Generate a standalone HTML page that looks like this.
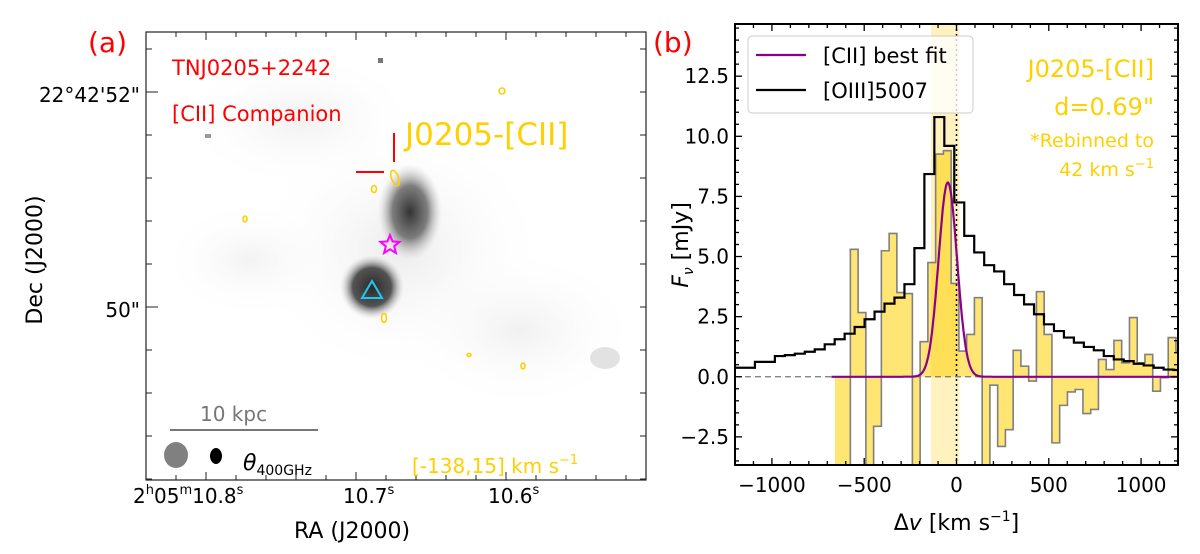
<!DOCTYPE html>
<html><head><meta charset="utf-8">
<style>
html,body{margin:0;padding:0;background:#fff;}
svg{display:block;font-family:"DejaVu Sans","Liberation Sans",sans-serif;}
</style></head>
<body>
<svg id="fig" width="1200" height="554" viewBox="0 0 1200 554" xmlns="http://www.w3.org/2000/svg">
<defs>
<radialGradient id="blobA"><stop offset="0" stop-color="#333"/><stop offset="0.55" stop-color="#707070" stop-opacity="0.9"/><stop offset="1" stop-color="#ccc" stop-opacity="0"/></radialGradient>
<radialGradient id="blobB"><stop offset="0" stop-color="#2a2a2a"/><stop offset="0.6" stop-color="#4a4a4a" stop-opacity="0.95"/><stop offset="1" stop-color="#ccc" stop-opacity="0"/></radialGradient>
<radialGradient id="haze"><stop offset="0" stop-color="#eaeaea"/><stop offset="1" stop-color="#fff" stop-opacity="0"/></radialGradient>
</defs>
<g>
<text x="88" y="52" font-size="28" fill="#f00">(a)</text>
<g>
<ellipse cx="300" cy="120" rx="120" ry="70" fill="url(#haze)" opacity="0.7"/>
<ellipse cx="400" cy="250" rx="150" ry="130" fill="url(#haze)" opacity="0.9"/>
<ellipse cx="520" cy="330" rx="120" ry="80" fill="url(#haze)" opacity="0.7"/>
<ellipse cx="250" cy="260" rx="90" ry="60" fill="url(#haze)" opacity="0.6"/>
<ellipse cx="605" cy="358" rx="15" ry="11" fill="#d6d6d6" opacity="0.7"/>
<rect x="378" y="58" width="5" height="5" fill="#777"/>
<rect x="205" y="134" width="6" height="4" fill="#999"/>
</g>
<ellipse cx="410" cy="212" rx="32" ry="48" fill="url(#blobA)"/>
<ellipse cx="372" cy="287" rx="32" ry="32" fill="url(#blobB)"/>
<rect x="146" y="32" width="500" height="448" fill="none" stroke="#222" stroke-width="1.2"/>
<g id="aTicks" stroke="#222" stroke-width="1"></g>
<text x="140" y="102" font-size="20" text-anchor="end">22°42'52"</text>
<text x="140" y="317" font-size="20" text-anchor="end">50"</text>
<text transform="translate(42,260) rotate(-90)" font-size="22" text-anchor="middle">Dec (J2000)</text>
<text x="133" y="503" font-size="20">2<tspan font-size="13" dy="-9">h</tspan><tspan dy="9">05</tspan><tspan font-size="13" dy="-9">m</tspan><tspan dy="9">10.8</tspan><tspan font-size="13" dy="-9">s</tspan></text>
<text x="343" y="503" font-size="20">10.7<tspan font-size="13" dy="-9">s</tspan></text>
<text x="488" y="503" font-size="20">10.6<tspan font-size="13" dy="-9">s</tspan></text>
<text x="352" y="538" font-size="22" text-anchor="middle">RA (J2000)</text>
<text x="172" y="75" font-size="21" fill="#f00">TNJ0205+2242</text>
<text x="172" y="121" font-size="21" fill="#f00">[CII] Companion</text>
<text x="405" y="145" font-size="31" fill="#ffd000">J0205-[CII]</text>
<line x1="394" y1="133" x2="394" y2="162" stroke="#f00" stroke-width="2"/>
<line x1="356" y1="172" x2="384" y2="172" stroke="#f00" stroke-width="2"/>
<g fill="none" stroke="#ffd000" stroke-width="1.6">
<ellipse cx="395" cy="178" rx="3.5" ry="8" transform="rotate(-20 395 178)"/>
<ellipse cx="374" cy="189" rx="2.5" ry="3.5"/>
<ellipse cx="245" cy="219" rx="2" ry="3"/>
<ellipse cx="502" cy="91" rx="3" ry="3"/>
<ellipse cx="384" cy="318" rx="2.5" ry="4.5"/>
<ellipse cx="469" cy="355" rx="2" ry="1.5"/>
<ellipse cx="523" cy="366" rx="2" ry="3"/>
</g>
<polygon points="390,235 392.6,241.4 399.5,241.9 394.2,246.3 395.9,253 390,249.3 384.1,253 385.8,246.3 380.5,241.9 387.4,241.4" fill="none" stroke="#f0f" stroke-width="2"/>
<polygon points="372,281 362,298 382,298" fill="none" stroke="#1ec8f0" stroke-width="2"/>
<text x="200" y="421" font-size="20" fill="#777">10 kpc</text>
<line x1="170" y1="430" x2="318" y2="430" stroke="#777" stroke-width="2"/>
<ellipse cx="176" cy="455" rx="12" ry="13" fill="#808080"/>
<ellipse cx="216" cy="456" rx="6" ry="8" fill="#000"/>
<text x="243" y="470" font-size="22" font-style="italic">θ<tspan font-size="14" font-style="normal" dy="5">400GHz</tspan></text>
<text x="412" y="473" font-size="20" fill="#ffd000">[-138,15] km s<tspan font-size="13" dy="-9">−1</tspan></text>
</g>
<text x="653" y="52" font-size="28" fill="#f00">(b)</text>
<g id="specPanel"></g>
</svg>
<script>
const ns="http://www.w3.org/2000/svg";
const oiiiStart=-1200, oiiiWidth=54;
const oiiiValues=[0.375,0.375,0.62,0.62,0.86,0.9,0.96,1.04,1.14,1.35,1.56,1.79,2.07,2.39,2.71,3.04,3.29,3.85,5.35,8.43,10.8,9.6,7.25,5.86,5.17,4.64,4.38,3.85,3.4,3.01,2.6,2.18,1.9,1.63,1.42,1.24,1.1,0.86,0.72,0.65,0.54,0.47,0.375,0.3,0.28];
const ciiStart=-659, ciiWidth=42;
const ciiValues=[-4.5,-4.5,5.3,2.67,-4.5,-2.06,5.24,5.96,3.5,3.46,-4.5,1.46,4.75,9.26,9.4,3.88,1.07,1.76,3.29,-4.5,-0.35,-2.9,-2.2,1.1,0.44,-0.18,3.54,1.76,-2.75,-1.19,-0.63,-0.53,-1.53,-1.36,0.72,0.3,1.51,0.58,2.46,0.58,0.93,-0.6,-0.04,1.63,1.07];
const fitAmp=8.08, fitCenter=-47, fitSigma=50, fitFrom=-678;
const bandRange=[-138,15];
const xTicks=[-1000,-500,0,500,1000];
const xTickLabels=["−1000","−500","0","500","1000"];
const yTicks=[-2.5,0,2.5,5,7.5,10,12.5];
const yTickLabels=["−2.5","0.0","2.5","5.0","7.5","10.0","12.5"];

const L=735,R=1178,T=24,B=465;
const xMin=-1200,xMax=1200,yMin=-3.67,yMax=14.67;
const X=v=>L+(v-xMin)/(xMax-xMin)*(R-L);
const Y=v=>B-(v-yMin)/(yMax-yMin)*(B-T);
const P=document.getElementById('specPanel');
function mk(tag,attrs,parent){const e=document.createElementNS(ns,tag);for(const k in attrs)e.setAttribute(k,attrs[k]);(parent||P).appendChild(e);return e;}
const clip=mk('clipPath',{id:'plotClip'});mk('rect',{x:L,y:T,width:R-L,height:B-T},clip);
const g=mk('g',{'clip-path':'url(#plotClip)'});
const band=mk('rect',{x:X(bandRange[0]),y:T,width:X(bandRange[1])-X(bandRange[0]),height:B-T,fill:'#ffe36e',opacity:0.45},g);


let d='M'+X(ciiStart)+','+Y(0);
ciiValues.forEach((v,i)=>{const x0=X(ciiStart+i*ciiWidth),x1=X(ciiStart+(i+1)*ciiWidth);d+=' L'+x0+','+Y(v)+' L'+x1+','+Y(v);});
const ciiEnd=ciiStart+ciiValues.length*ciiWidth;
const fillD=d+' L'+X(ciiEnd)+','+Y(0)+' Z';
const cf=mk('path',{d:fillD,fill:'#ffd000',opacity:0.55,stroke:'none'},g);


let od='';
ciiValues.forEach((v,i)=>{const x0=X(ciiStart+i*ciiWidth),x1=X(ciiStart+(i+1)*ciiWidth);od+=(i?' L':'M')+x0+','+Y(v)+' L'+x1+','+Y(v);});
const co=mk('path',{d:od,fill:'none',stroke:'#808080','stroke-width':1.6},g);


const zl=mk('line',{x1:L,x2:R,y1:Y(0),y2:Y(0),stroke:'#777','stroke-width':1.2,'stroke-dasharray':'6,4'},g);


const vl=mk('line',{x1:X(0),x2:X(0),y1:T,y2:B,stroke:'#000','stroke-width':1.5,'stroke-dasharray':'2,3'},g);


let o='';
oiiiValues.forEach((v,i)=>{const x0=X(oiiiStart+i*oiiiWidth),x1=X(oiiiStart+(i+1)*oiiiWidth);o+=(i?' L':'M')+x0+','+Y(v)+' L'+x1+','+Y(v);});
const op=mk('path',{d:o,fill:'none',stroke:'#000','stroke-width':2.2},g);


let fd='';
for(let v=fitFrom;v<=xMax;v+=4){const f=fitAmp*Math.exp(-0.5*Math.pow((v-fitCenter)/fitSigma,2));fd+=(fd?' L':'M')+X(v).toFixed(1)+','+Y(f).toFixed(1);}
const fp=mk('path',{d:fd,fill:'none',stroke:'#8b008b','stroke-width':2.2},g);


const fr=mk('rect',{x:L,y:T,width:R-L,height:B-T,fill:'none',stroke:'#000','stroke-width':2});


for(let v=-1200;v<=1200;v+=100){const maj=v%500===0;const len=maj?7:4;mk('line',{x1:X(v),x2:X(v),y1:B,y2:B-len,stroke:'#000','stroke-width':1.3});mk('line',{x1:X(v),x2:X(v),y1:T,y2:T+len,stroke:'#000','stroke-width':1.3});}
for(let k=-7;k<=29;k++){const v=k*0.5;if(v<yMin||v>yMax)continue;const maj=k%5===0;const len=maj?7:4;mk('line',{x1:L,x2:L+len,y1:Y(v),y2:Y(v),stroke:'#000','stroke-width':1.3});mk('line',{x1:R,x2:R-len,y1:Y(v),y2:Y(v),stroke:'#000','stroke-width':1.3});}
xTicks.forEach((v,i)=>{const t=mk('text',{x:X(v),y:B+27,'font-size':20,'text-anchor':'middle'});t.textContent=xTickLabels[i];

});
yTicks.forEach((v,i)=>{const t=mk('text',{x:L-6,y:Y(v)+7,'font-size':20,'text-anchor':'end'});t.textContent=yTickLabels[i];

});
const xt=mk('text',{x:(L+R)/2,y:530,'font-size':22,'text-anchor':'middle'});
xt.innerHTML='Δ<tspan font-style="italic">v</tspan> [km s<tspan font-size="14" dy="-9">−1</tspan><tspan dy="9">]</tspan>';


const yt=mk('text',{transform:'translate(688,245) rotate(-90)','font-size':22,'text-anchor':'middle'});
yt.innerHTML='<tspan font-style="italic">F</tspan><tspan font-style="italic" font-size="14" dy="5">ν</tspan><tspan dy="-5"> [mJy]</tspan>';


const lg=mk('g',{});


mk('rect',{x:748,y:36,width:225,height:77,rx:4,fill:'#fff','fill-opacity':0.8,stroke:'#ccc'},lg);
mk('line',{x1:756,x2:806,y1:55,y2:55,stroke:'#8b008b','stroke-width':2.2},lg);
mk('line',{x1:756,x2:806,y1:90,y2:90,stroke:'#000','stroke-width':2.2},lg);
const l1=mk('text',{x:823,y:63,'font-size':21},lg);l1.textContent='[CII] best fit';


const l2=mk('text',{x:823,y:98,'font-size':21},lg);l2.textContent='[OIII]5007';


const ann=[['J0205-[CII]',77,24],['d=0.69"',115,24],['*Rebinned to',147,19]];
ann.forEach(a=>{const t=mk('text',{x:1154,y:a[1],'font-size':a[2],'text-anchor':'end',fill:'#ffd000'});t.textContent=a[0];

});
const a4=mk('text',{x:1154,y:176,'font-size':19,'text-anchor':'end',fill:'#ffd000'});
a4.innerHTML='42 km s<tspan font-size="13" dy="-8">−1</tspan>';


const at=document.getElementById('aTicks');
[92,307].forEach(y=>{mk('line',{x1:146,x2:158,y1:y,y2:y},at);});
for(let y=49;y<480;y+=43){mk('line',{x1:146,x2:152,y1:y,y2:y},at);mk('line',{x1:646,x2:640,y1:y,y2:y},at);}
for(let x=176;x<646;x+=30){mk('line',{x1:x,x2:x,y1:32,y2:37},at);mk('line',{x1:x,x2:x,y1:480,y2:475},at);}
[206,356,506].forEach(x=>{mk('line',{x1:x,x2:x,y1:32,y2:40},at);mk('line',{x1:x,x2:x,y1:480,y2:472},at);});
</script>
</body></html>
